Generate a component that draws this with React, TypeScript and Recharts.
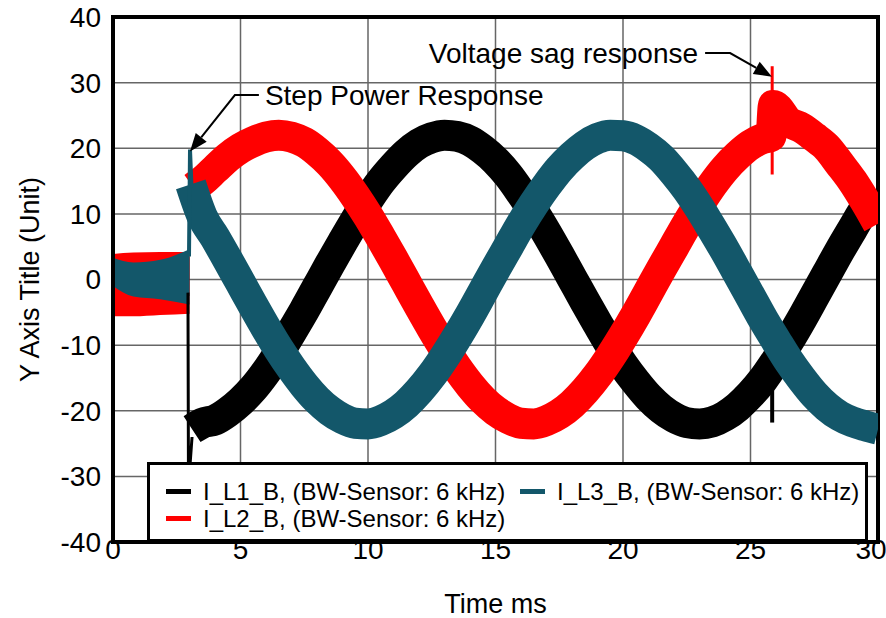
import React from 'react';
import {
  ComposedChart,
  Line,
  Area,
  XAxis,
  YAxis,
  CartesianGrid,
  ReferenceArea,
  ReferenceLine,
  Legend,
} from 'recharts';

// time axis (ms)
const xTicks = [0, 5, 10, 15, 20, 25, 30];
const yTicks = [-40, -30, -20, -10, 0, 10, 20, 30, 40];

const seriesNames = [
  'I_L1_B, (BW-Sensor: 6 kHz)',
  'I_L2_B, (BW-Sensor: 6 kHz)',
  'I_L3_B, (BW-Sensor: 6 kHz)',
];
const seriesColors = ['#000000', '#ff0000', '#13576a'];

// before the power step: narrow noisy bands around zero
const preTime = [0, 0.8, 1.85, 3.0];
const blackPreLow = [-2.5, -2.5, -2.5, -2.5];
const blackPreHigh = [3.8, 3.5, 3.5, 3.5];
const redPreLow = [-5.6, -5.6, -5.4, -5.2];
const redPreHigh = [3.9, 4.1, 4.2, 4.2];
const tealPreLow = [-1.0, -2.6, -3.0, -3.8];
const tealPreHigh = [3.3, 2.6, 3.0, 4.6];

// after the step: centre of each current band
const gridTime = [
  3.5, 4, 4.5, 5, 5.5, 6, 6.5, 7, 7.5, 8, 8.5, 9, 9.5, 10, 10.5, 11, 11.5, 12, 12.5, 13,
  13.5, 14, 14.5, 15, 15.5, 16, 16.5, 17, 17.5, 18, 18.5, 19, 19.5, 20, 20.5, 21, 21.5, 22,
  22.5, 23, 23.5, 24, 24.5, 25, 25.5, 26, 26.5, 27, 27.5, 28, 28.5, 29, 29.5, 30,
];
const blackTime = [3.1, ...gridTime];
const blackValues = [
  -22.8, -21.9, -21.4, -20.2, -18.6, -16.6, -14.1, -11.2, -8.0, -4.7, -1.2, 2.3, 5.7, 9.0,
  12.1, 14.9, 17.2, 19.2, 20.7, 21.6, 22.0, 21.8, 21.1, 19.8, 18.1, 15.9, 13.2, 10.3, 7.1,
  3.7, 0.2, -3.3, -6.7, -10.0, -13.0, -15.6, -17.9, -19.7, -21.0, -21.8, -22.0, -21.7, -20.8,
  -19.4, -17.5, -15.2, -12.4, -9.4, -6.1, -2.6, 0.9, 4.4, 7.7, 10.9, 13.0,
];
const redTime = [
  3.15, 3.5, 4, 4.5, 5, 5.5, 6, 6.5, 7, 7.5, 8, 8.5, 9, 9.5, 10, 10.5, 11, 11.5, 12, 12.5,
  13, 13.5, 14, 14.5, 15, 15.5, 16, 16.5, 17, 17.5, 18, 18.5, 19, 19.5, 20, 20.5, 21, 21.5,
  22, 22.5, 23, 23.5, 24, 24.5, 25, 25.5, 25.8, 25.9, 26.5, 27, 27.5, 28, 28.5, 29, 29.5, 30,
];
const redValues = [
  14.0, 15.0, 16.8, 18.6, 20.0, 21.0, 21.7, 22.0, 21.7, 20.9, 19.5, 17.7, 15.4, 12.7, 9.7,
  6.4, 3.0, -0.5, -4.0, -7.4, -10.6, -13.5, -16.1, -18.3, -20.0, -21.2, -21.9, -22.0, -21.5,
  -20.5, -19.0, -17.0, -14.6, -11.8, -8.7, -5.4, -1.9, 1.6, 5.0, 8.4, 11.5, 14.4, 16.9, 18.9,
  20.5, 21.5, 21.8, 26.5, 24.0, 23.1, 21.7, 20.1, 17.6, 15.0, 11.9, 8.5,
];
const tealTime = [3.05, ...gridTime];
const tealValues = [
  14.5, 9.6, 6.4, 3.0, -0.5, -4.0, -7.4, -10.6, -13.5, -16.1, -18.3, -20.0, -21.2, -21.9,
  -22.0, -21.5, -20.5, -19.0, -17.0, -14.6, -11.8, -8.7, -5.4, -1.9, 1.6, 5.0, 8.4, 11.5,
  14.3, 16.8, 18.8, 20.4, 21.5, 22.0, 21.9, 21.3, 20.1, 18.5, 16.3, 13.8, 10.9, 7.7, 4.4,
  0.9, -2.6, -6.1, -9.3, -12.4, -15.1, -17.5, -19.4, -20.8, -21.7, -22.3, -22.8,
];

// transients
const blackStepTime = [2.94, 2.96, 3.1];
const blackStepValues = [-2.0, -31.5, -24.0];
const tealStepTime = [2.98, 3.02, 3.08];
const tealStepValues = [3.5, 19.8, 14.0];
const redSagTime = [25.85, 25.85];
const redSagValues = [16.0, 32.5];
const blackSagTime = [25.85, 25.85];
const blackSagValues = [-12.0, -21.8];

const FONT = '"Liberation Sans", Arial, sans-serif';

const toPoints = (t: number[], v: number[]) => t.map((x, i) => ({ t: x, v: v[i] }));
const toRange = (t: number[], lo: number[], hi: number[]) =>
  t.map((x, i) => ({ t: x, r: [lo[i], hi[i]] }));

const arrowShape = (label: string, side: 'left' | 'right') => (props: any) => {
  const { x1, y1, x2, y2 } = props;
  const leg = side === 'right' ? 24 : -25;
  const ang = Math.atan2(y2 - y1, x2 - x1);
  const len = 18;
  const half = 7;
  const bx = x2 - len * Math.cos(ang);
  const by = y2 - len * Math.sin(ang);
  const px = -Math.sin(ang) * half;
  const py = Math.cos(ang) * half;
  return (
    <g>
      <polyline
        points={`${x1 + leg},${y1} ${x1},${y1} ${bx},${by}`}
        fill="none"
        stroke="#000"
        strokeWidth={2}
      />
      <polygon points={`${x2},${y2} ${bx + px},${by + py} ${bx - px},${by - py}`} fill="#000" />
      <text
        x={side === 'right' ? x1 + leg + 6 : x1 + leg - 7}
        y={y1}
        textAnchor={side === 'right' ? 'start' : 'end'}
        dominantBaseline="central"
        fontFamily={FONT}
        fontSize={28}
        fill="#000"
      >
        {label}
      </text>
    </g>
  );
};

// x tick: keep the last label inside the picture
const XTick = (props: any) => {
  const { x, y, payload } = props;
  const shift = payload.value === 30 ? -7 : 0;
  return (
    <text
      x={x + shift}
      y={y}
      dy="0.71em"
      textAnchor="middle"
      fontSize={28}
      fontFamily={FONT}
      fill="#000"
    >
      {payload.value}
    </text>
  );
};

const LegendBox = () => {
  const rows = [
    { i: 0, x: 0, y: 0 },
    { i: 2, x: 354, y: 0 },
    { i: 1, x: 0, y: 27 },
  ];
  return (
    <div
      style={{
        width: 721,
        height: 80,
        boxSizing: 'border-box',
        border: '3px solid #000',
        background: '#fff',
        position: 'relative',
        fontFamily: FONT,
      }}
    >
      {rows.map((r) => (
        <div
          key={r.i}
          style={{
            position: 'absolute',
            left: 16 + r.x,
            top: 13 + r.y,
            height: 27,
            display: 'flex',
            alignItems: 'center',
            whiteSpace: 'nowrap',
          }}
        >
          <span
            style={{
              display: 'inline-block',
              width: 25,
              height: 5,
              background: seriesColors[r.i],
              marginRight: 12,
            }}
          />
          <span style={{ fontSize: 24, color: '#000' }}>{seriesNames[r.i]}</span>
        </div>
      ))}
    </div>
  );
};

export default function App() {
  return (
    <div style={{ position: 'absolute', left: 0, top: 0, width: 886, height: 618, background: '#fff' }}>
      <ComposedChart width={886} height={618} margin={{ top: 17, right: 8, left: 0, bottom: 0 }}>
        <CartesianGrid stroke="#666" strokeWidth={1.5} />
        <XAxis
          dataKey="t"
          type="number"
          domain={[0, 30]}
          ticks={xTicks}
          allowDataOverflow
          height={76}
          tickLine={false}
          axisLine={false}
          tickSize={0}
          tickMargin={-3}
          tick={<XTick />}
          label={{
            content: (p: any) => (
              <text
                x={p.viewBox.x + p.viewBox.width / 2}
                y={p.viewBox.y + 62}
                textAnchor="middle"
                dominantBaseline="central"
                fontSize={27}
                fontFamily={FONT}
                fill="#000"
              >
                Time ms
              </text>
            ),
          }}
        />
        <YAxis
          type="number"
          domain={[-40, 40]}
          ticks={yTicks}
          allowDataOverflow
          width={113}
          tickLine={false}
          axisLine={false}
          tickSize={0}
          tickMargin={12}
          tick={{ fontSize: 28, fontFamily: FONT, fill: '#000' }}
          label={{
            content: (p: any) => {
              const cx = p.viewBox.x + 30;
              const cy = p.viewBox.y + p.viewBox.height / 2;
              return (
                <text
                  x={cx}
                  y={cy}
                  transform={`rotate(-90 ${cx} ${cy})`}
                  textAnchor="middle"
                  dominantBaseline="central"
                  fontSize={27}
                  fontFamily={FONT}
                  fill="#000"
                >
                  Y Axis Title (Unit)
                </text>
              );
            },
          }}
        />

        <Area
          data={toRange(preTime, blackPreLow, blackPreHigh)}
          dataKey="r"
          type="monotone"
          stroke="none"
          fill={seriesColors[0]}
          fillOpacity={1}
          isAnimationActive={false}
          legendType="none"
        />
        <Area
          data={toRange(preTime, redPreLow, redPreHigh)}
          dataKey="r"
          type="monotone"
          stroke="none"
          fill={seriesColors[1]}
          fillOpacity={1}
          isAnimationActive={false}
          legendType="none"
        />
        <Area
          data={toRange(preTime, tealPreLow, tealPreHigh)}
          dataKey="r"
          type="monotone"
          stroke="none"
          fill={seriesColors[2]}
          fillOpacity={1}
          isAnimationActive={false}
          legendType="none"
        />

        <Line
          data={toPoints(blackTime, blackValues)}
          dataKey="v"
          type="monotone"
          stroke={seriesColors[0]}
          strokeWidth={31}
          strokeLinecap="butt"
          dot={false}
          isAnimationActive={false}
        />
        <Line
          data={toPoints(blackStepTime, blackStepValues)}
          dataKey="v"
          type="linear"
          stroke={seriesColors[0]}
          strokeWidth={3}
          dot={false}
          isAnimationActive={false}
          legendType="none"
        />
        <Line
          data={toPoints(blackSagTime, blackSagValues)}
          dataKey="v"
          type="linear"
          stroke={seriesColors[0]}
          strokeWidth={4}
          dot={false}
          isAnimationActive={false}
          legendType="none"
        />
        <Line
          data={toPoints(redTime, redValues)}
          dataKey="v"
          type="monotone"
          stroke={seriesColors[1]}
          strokeWidth={31}
          strokeLinecap="butt"
          dot={false}
          isAnimationActive={false}
        />
        <Line
          data={toPoints(redSagTime, redSagValues)}
          dataKey="v"
          type="linear"
          stroke={seriesColors[1]}
          strokeWidth={3}
          dot={false}
          isAnimationActive={false}
          legendType="none"
        />
        <Line
          data={toPoints(tealTime, tealValues)}
          dataKey="v"
          type="monotone"
          stroke={seriesColors[2]}
          strokeWidth={31}
          strokeLinecap="butt"
          dot={false}
          isAnimationActive={false}
        />
        <Line
          data={toPoints(tealStepTime, tealStepValues)}
          dataKey="v"
          type="linear"
          stroke={seriesColors[2]}
          strokeWidth={4}
          dot={false}
          isAnimationActive={false}
          legendType="none"
        />

        <ReferenceLine
          segment={[{ x: 4.78, y: 28.1 }, { x: 3.02, y: 19.5 }]}
          shape={arrowShape('Step Power Response', 'right')}
          ifOverflow="visible"
        />
        <ReferenceLine
          segment={[{ x: 24.2, y: 34.5 }, { x: 25.84, y: 30.9 }]}
          shape={arrowShape('Voltage sag response', 'left')}
          ifOverflow="visible"
        />

        <ReferenceArea
          x1={0}
          x2={30}
          y1={-40}
          y2={40}
          fill="none"
          stroke="#000"
          strokeWidth={4}
          ifOverflow="visible"
        />
        <Legend
          layout="horizontal"
          verticalAlign="middle"
          align="center"
          wrapperStyle={{ position: 'absolute', left: 147, top: 462, width: 721, height: 80 }}
          content={() => <LegendBox />}
        />
      </ComposedChart>
    </div>
  );
}
